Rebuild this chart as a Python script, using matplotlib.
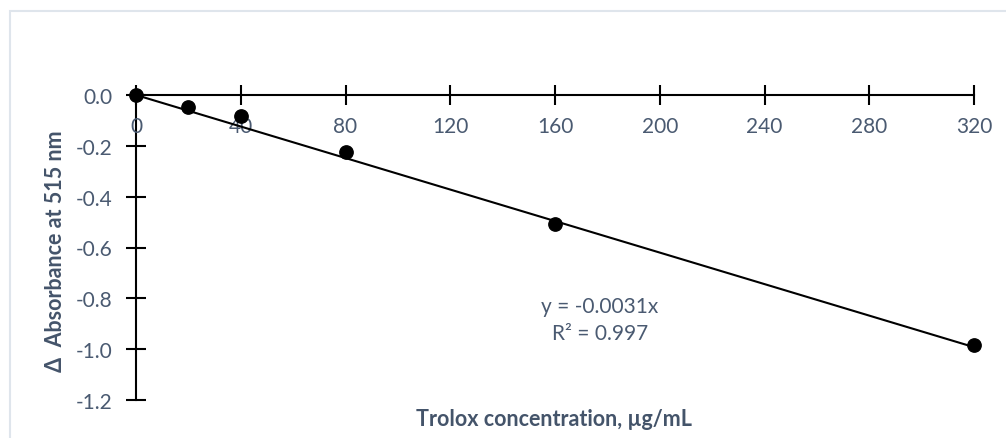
import matplotlib.pyplot as plt
from matplotlib.patches import Rectangle

# Trolox standard curve
concentration = [0, 20, 40, 80, 160, 320]
delta_absorbance = [0.0, -0.046, -0.084, -0.223, -0.507, -0.985]
slope = -0.0031
r_squared = 0.997

x_ticks = [0, 40, 80, 120, 160, 200, 240, 280, 320]
y_ticks = [0.0, -0.2, -0.4, -0.6, -0.8, -1.0, -1.2]

TEXT_COLOR = "#4a5a71"
TITLE_COLOR = "#44546a"
W, H = 1006, 439

plt.rcParams["font.family"] = ["Lato", "DejaVu Sans"]

fig = plt.figure(figsize=(W / 100, H / 100), dpi=100)
ax = fig.add_axes([136 / W, 38 / H, 838 / W, 305 / H])

# light chart-area frame
fig.patches.append(Rectangle((10 / W, -0.1), 1.2, 1.1 - 12 / H,
                             transform=fig.transFigure, fill=False,
                             edgecolor="#dfe5ec", linewidth=1.5))

ax.plot([0, concentration[-1]], [0, slope * concentration[-1]],
        color="black", linewidth=1.5, zorder=2)
ax.plot(concentration, delta_absorbance, "o", color="black",
        markersize=9.6, zorder=3, clip_on=False)

ax.set_xlim(0, 320)
ax.set_ylim(-1.2, 0)

for side in ["top", "right"]:
    ax.spines[side].set_visible(False)
ax.spines["bottom"].set_position(("data", 0))
ax.spines["left"].set_position(("data", 0))
for side in ["bottom", "left"]:
    ax.spines[side].set_linewidth(1.5)
    ax.spines[side].set_zorder(1)

ax.set_xticks(x_ticks)
ax.set_xticklabels([str(t) for t in x_ticks])
ax.set_yticks(y_ticks)
ax.set_yticklabels([f"{t:.1f}" for t in y_ticks])
ax.tick_params(axis="both", direction="inout", length=14, width=1.5,
               labelsize=15, labelcolor=TEXT_COLOR)
ax.tick_params(axis="x", pad=8)
ax.tick_params(axis="y", pad=10)

fig.text(554 / W, 1 - 420 / H, "Trolox concentration, µg/mL",
         ha="center", va="center", fontsize=15.5, fontweight="bold",
         color=TITLE_COLOR)
fig.text(56 / W, 1 - 251 / H, "Δ  Absorbance at 515 nm", rotation=90,
         ha="center", va="center", fontsize=15.5, fontweight="bold",
         color=TITLE_COLOR)

fig.text(600 / W, 1 - 307 / H, f"y = {slope}x", ha="center", va="center",
         fontsize=15, color=TEXT_COLOR)
fig.text(600 / W, 1 - 334 / H, f"R² = {r_squared}", ha="center", va="center",
         fontsize=15, color=TEXT_COLOR)

fig.savefig("out.png", dpi=100, facecolor="white")
